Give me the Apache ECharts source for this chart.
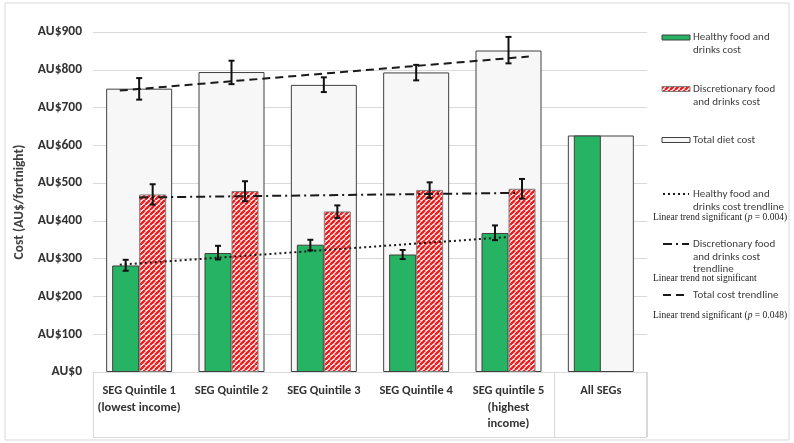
<!DOCTYPE html>
<html><head><meta charset="utf-8">
<script src="https://cdn.jsdelivr.net/npm/echarts@6/dist/echarts.min.js"></script>
<style>html,body{margin:0;padding:0;background:#fff}#c{width:794px;height:443px}</style>
</head><body><div id="c"></div>
<script>
// ---- data ----
const categories = ['SEG Quintile 1\n(lowest income)', 'SEG Quintile 2', 'SEG Quintile 3', 'SEG Quintile 4', 'SEG quintile 5\n(highest\nincome)', 'All SEGs'];
const healthy = [282, 315, 337, 311, 368, 626];
const healthyLow = [268, 298, 322, 299, 349];
const healthyHigh = [297, 334, 350, 323, 388];
const discretionary = [470, 479, 425, 482, 485, null];
const discLow = [443, 452, 408, 461, 459];
const discHigh = [497, 505, 441, 502, 511];
const total = [750, 794, 760, 793, 851, 626];
const totalLow = [721, 762, 741, 772, 817];
const totalHigh = [778, 824, 780, 813, 887];
// trendlines: x in category units (0..6), y in AU$
const totalTrendX = [0.29, 4.72], totalTrendY = [745, 835];
const healthyTrendX = [0.29, 4.48], healthyTrendY = [284, 357];
const discTrendX = [0.5, 4.58], discTrendY = [462, 474];
const yTicks = [0, 100, 200, 300, 400, 500, 600, 700, 800, 900];

// ---- styles ----
const FONT = 'Carlito, Lato, sans-serif';
const GREEN = '#26b363';
const narrowW = 27, wideW = 66;

function hatchCanvas() {
  const s = 5, c = document.createElement('canvas');
  c.width = s; c.height = s;
  const g = c.getContext('2d');
  g.fillStyle = '#fff'; g.fillRect(0, 0, s, s);
  g.strokeStyle = '#f01c1c'; g.lineWidth = 2.4;
  for (const k of [-s, 0, s]) { g.beginPath(); g.moveTo(k, s); g.lineTo(k + s, 0); g.stroke(); }
  return c;
}
const hatch = { image: hatchCanvas(), repeat: 'repeat' };

function errSeries(lows, highs, offset) {
  return {
    type: 'custom', xAxisIndex: 0, yAxisIndex: 0, z: 10, silent: true,
    data: lows.map((l, i) => [i, l, highs[i]]),
    renderItem(params, api) {
      const x = api.coord([api.value(0), 0])[0] + offset;
      const lo = api.coord([api.value(0), api.value(1)])[1];
      const hi = api.coord([api.value(0), api.value(2)])[1];
      const cap = 3, st = { stroke: '#111', lineWidth: 2 };
      return { type: 'group', children: [
        { type: 'line', shape: { x1: x, y1: lo, x2: x, y2: hi }, style: st },
        { type: 'line', shape: { x1: x - cap, y1: hi, x2: x + cap, y2: hi }, style: st },
        { type: 'line', shape: { x1: x - cap, y1: lo, x2: x + cap, y2: lo }, style: st }
      ] };
    }
  };
}
function trend(xs, ys, type) {
  return { type: 'line', xAxisIndex: 2, yAxisIndex: 0, z: 8, symbol: 'none', silent: true,
    data: xs.map((x, i) => [x, ys[i]]),
    lineStyle: { color: '#1a1a1a', width: 2, type: type } };
}

const chart = echarts.init(document.getElementById('c'), null, { renderer: 'canvas' });
const legTxt = { fill: '#404040', font: '11px ' + FONT };
function txt(x, y, t, st) { return { type: 'text', left: x, top: y, style: Object.assign({ text: t, lineHeight: 12.5 }, st) }; }
function note(x, y, p) {
  const base = { fill: '#222', fontFamily: '"Liberation Serif", serif', fontSize: 9.5 };
  return { type: 'text', left: x, top: y, style: {
    text: p ? '{n|Linear trend significant (}{i|p}{n| = ' + p + ')}' : '{n|Linear trend not significant}',
    rich: { n: base, i: Object.assign({ fontStyle: 'italic' }, base) } } };
}
function dashLine(y, dash) {
  return { type: 'line', shape: { x1: 663, y1: y, x2: 689, y2: y }, style: { stroke: '#1a1a1a', lineWidth: 2, lineDash: dash } };
}

chart.setOption({
  animation: false,
  grid: { left: 93, right: 147, top: 32, bottom: 71 },
  xAxis: [
    { type: 'category', data: categories,
      axisLine: { lineStyle: { color: '#d9d9d9' } },
      axisTick: { show: true, length: 65, interval: (i) => i === 0 || i === 5, lineStyle: { color: '#d9d9d9' } },
      axisLabel: { interval: 0, color: '#333', fontFamily: FONT, fontWeight: 'bold', fontSize: 12.5, lineHeight: 16.5, margin: 11 } },
    { type: 'category', data: categories, show: false },
    { type: 'value', min: 0, max: 6, show: false }
  ],
  yAxis: { type: 'value', min: yTicks[0], max: yTicks[yTicks.length - 1], interval: 100,
    name: 'Cost (AU$/fortnight)', nameLocation: 'middle', nameGap: 66,
    nameTextStyle: { color: '#404040', fontFamily: FONT, fontWeight: 'bold', fontSize: 13.5 },
    axisLine: { show: false }, axisTick: { show: false },
    axisLabel: { formatter: v => 'AU$' + v, color: '#333', fontFamily: FONT, fontWeight: 'bold', fontSize: 13.5, margin: 11 },
    splitLine: { lineStyle: { color: '#d9d9d9' } } },
  series: [
    { name: 'Total diet cost', type: 'bar', xAxisIndex: 1, data: total, barWidth: wideW, z: 1,
      itemStyle: { color: '#f7f7f7', borderColor: '#404040', borderWidth: 1 } },
    { name: 'Healthy food and drinks cost', type: 'bar', xAxisIndex: 0, data: healthy, barWidth: narrowW, barGap: '0%', z: 3,
      itemStyle: { color: GREEN, borderColor: '#404040', borderWidth: 1 } },
    { name: 'Discretionary food and drinks cost', type: 'bar', xAxisIndex: 0, data: discretionary, barWidth: narrowW, z: 3,
      itemStyle: { color: hatch, borderColor: '#7f7f7f', borderWidth: 1 } },
    trend(totalTrendX, totalTrendY, [8, 5]),
    trend(healthyTrendX, healthyTrendY, [2, 3]),
    trend(discTrendX, discTrendY, [9, 4, 2, 4]),
    errSeries(totalLow, totalHigh, 0),
    errSeries(healthyLow, healthyHigh, -narrowW / 2),
    errSeries(discLow, discHigh, narrowW / 2)
  ],
  graphic: [
    { type: 'rect', shape: { x: 5, y: 3, width: 784, height: 437 }, style: { fill: null, stroke: '#d9d9d9', lineWidth: 1 }, z: -1 },
    { type: 'line', shape: { x1: 93, y1: 437.5, x2: 647, y2: 437.5 }, style: { stroke: '#d9d9d9', lineWidth: 1 } },
    { type: 'line', shape: { x1: 646.5, y1: 372, x2: 646.5, y2: 437.5 }, style: { stroke: '#d9d9d9', lineWidth: 1 } },
    // legend
    { type: 'rect', shape: { x: 662, y: 35, width: 28, height: 5 }, style: { fill: GREEN, stroke: '#404040', lineWidth: 1 } },
    txt(693, 31, 'Healthy food and\ndrinks cost', legTxt),
    { type: 'rect', shape: { x: 662, y: 86.5, width: 28, height: 5 }, style: { fill: hatch, stroke: '#7f7f7f', lineWidth: 1 } },
    txt(693, 83, 'Discretionary food\nand drinks cost', legTxt),
    { type: 'rect', shape: { x: 662, y: 137.5, width: 28, height: 5 }, style: { fill: '#f7f7f7', stroke: '#404040', lineWidth: 1 } },
    txt(693, 134, 'Total diet cost', legTxt),
    dashLine(194, [2, 3]),
    txt(693, 188, 'Healthy food and\ndrinks cost trendline', legTxt),
    note(653, 212, '0.004'),
    dashLine(244, [9, 4, 2, 4]),
    txt(693, 238, 'Discretionary food\nand drinks cost\ntrendline', legTxt),
    note(653, 273),
    dashLine(295, [8, 5]),
    txt(693, 289, 'Total cost trendline', legTxt),
    note(653, 310, '0.048')
  ]
});
</script></body></html>
